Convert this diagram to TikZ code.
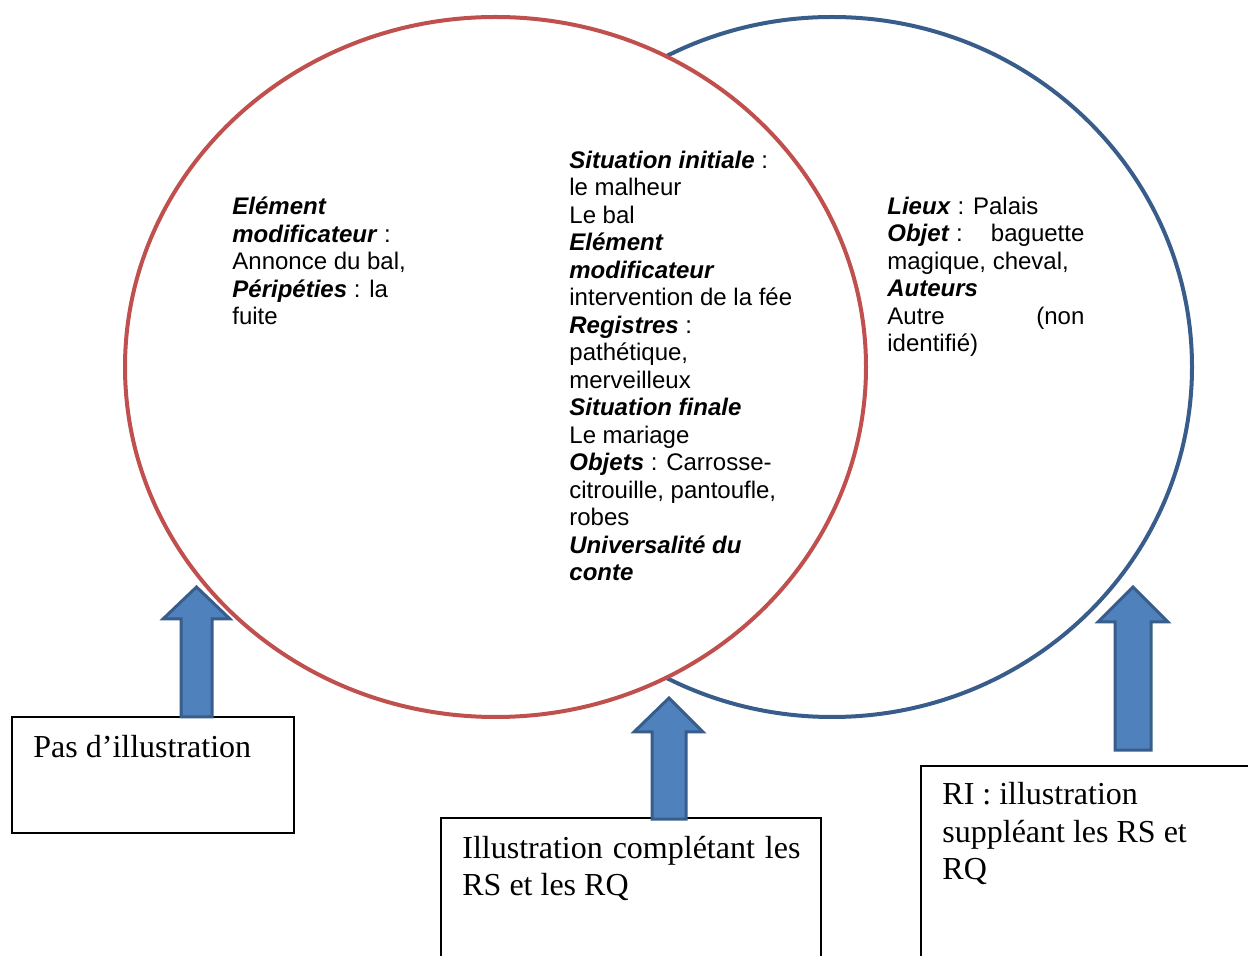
\documentclass[tikz,border=0pt]{standalone}
\usepackage{fontspec}
\setmainfont{Liberation Serif}
\newfontfamily\arialf{Liberation Sans}
\usetikzlibrary{shapes.geometric}
\definecolor{ored}{HTML}{C0504D}
\definecolor{oblue}{HTML}{385D8A}
\definecolor{ofill}{HTML}{4F81BD}
\newcommand{\bi}[1]{\textbf{\textit{#1}}}
\begin{document}
\begin{tikzpicture}[x=0.5pt,y=-0.5pt,
  venn/.style={ellipse, draw, line width=2pt, inner sep=0pt, minimum width=#1},
  sans/.style={anchor=base west, inner sep=0pt, font=\arialf\fontsize{12pt}{13.75pt}\selectfont},
  serif/.style={anchor=base west, inner sep=0pt, font=\fontsize{16pt}{18.5pt}\selectfont},
  box/.style={draw=black, line width=0.75pt},
  uparrow/.style={fill=ofill, draw=oblue, line width=1.5pt, line join=miter}]
\useasboundingbox (0,0) rectangle (1248,956);
% circles
\node (blue) [venn=360pt, draw=oblue, minimum height=350pt] at (832,367) {};
\node (red) [venn=370.5pt, draw=ored, fill=white, minimum height=350pt] at (495.5,367) {};
% boxes
\draw[box] (12,717) rectangle (294,833);
\draw[box] (441,818) rectangle (821,980);
\draw[box] (921,766) rectangle (1270,980);
% arrows
\draw[uparrow] (181,717) -- (181,619) -- (163,619) -- (196.5,587) -- (230,619) -- (212,619) -- (212,717) -- cycle;
\draw[uparrow] (652,819) -- (652,732) -- (634,732) -- (669,698) -- (703,732) -- (686,732) -- (686,819) -- cycle;
\draw[uparrow] (1115,750) -- (1115,622) -- (1098,622) -- (1133,587) -- (1168,622) -- (1151,622) -- (1151,750) -- cycle;
% texts in circles
\node (tleft) [sans] at (232,215) {\begin{tabular}[t]{@{}l@{}}
\bi{Elément}\\
\bi{modificateur} :\\
Annonce du bal,\\
\bi{Péripéties} : la\\
fuite
\end{tabular}};
\node (tmid) [sans] at (569,168.5) {\begin{tabular}[t]{@{}l@{}}
\bi{Situation initiale} :\\
le malheur\\
Le bal\\
\bi{Elément}\\
\bi{modificateur}\\
intervention de la fée\\
\bi{Registres} :\\
pathétique,\\
merveilleux\\
\bi{Situation finale}\\
Le mariage\\
\bi{Objets} : Carrosse-\\
citrouille, pantoufle,\\
robes\\
\bi{Universalité du}\\
\bi{conte}
\end{tabular}};
\node (tright) [sans] at (887,214.5) {\begin{tabular}[t]{@{}l@{}}
\bi{Lieux} : Palais\\
\hbox to 98.5pt{\bi{Objet} :\hfill baguette}\\
magique, cheval,\\
\bi{Auteurs}\\
\hbox to 98.5pt{Autre\hfill(non}\\
identifié)
\end{tabular}};
% texts in boxes
\node (b1) [serif] at (33,757) {Pas d’illustration};
\node (b2) [serif] at (462,858) {\begin{tabular}[t]{@{}l@{}}
\hbox to 169pt{Illustration\hfill complétant\hfill les}\\
RS et les RQ
\end{tabular}};
\node (b3) [serif] at (942,805) {\begin{tabular}[t]{@{}l@{}}
RI : illustration\\
suppléant les RS et\\
RQ
\end{tabular}};
\end{tikzpicture}
\end{document}
